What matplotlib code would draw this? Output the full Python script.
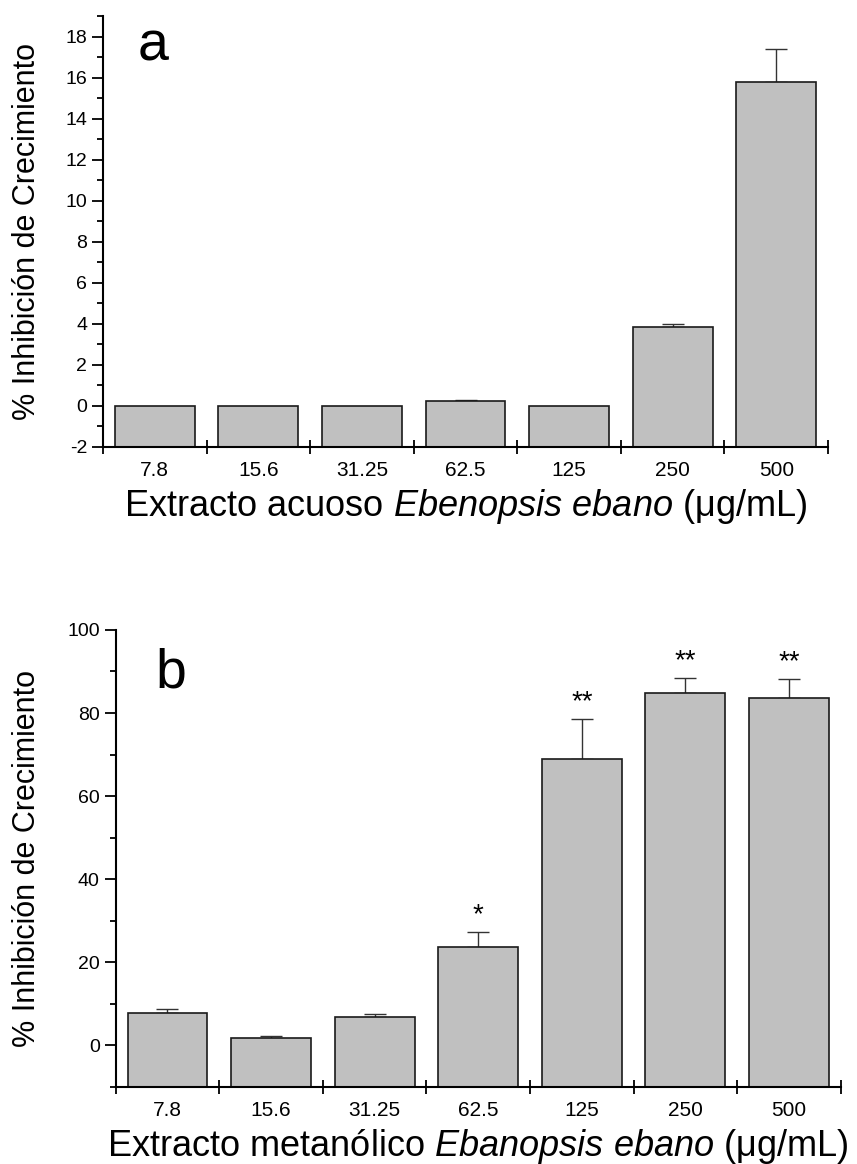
import numpy as np
import matplotlib
matplotlib.use("Agg")
import matplotlib.pyplot as plt
from matplotlib.ticker import MultipleLocator

plt.rcParams['font.family'] = ['Liberation Sans', 'DejaVu Sans']
plt.rcParams['mathtext.fontset'] = 'custom'
plt.rcParams['mathtext.rm'] = 'Liberation Sans'
plt.rcParams['mathtext.it'] = 'Liberation Sans:italic'
plt.rcParams['axes.unicode_minus'] = False

concs = ['7.8', '15.6', '31.25', '62.5', '125', '250', '500']

# aqueous extract (panel a)
acuoso = [0.0, 0.0, 0.0, 0.25, 0.0, 3.84, 15.8]
acuoso_err = [0.0, 0.0, 0.0, 0.05, 0.0, 0.16, 1.6]

# methanolic extract (panel b)
metanol = [7.8, 1.7, 6.7, 23.7, 69.0, 84.9, 83.7]
metanol_err = [1.0, 0.4, 0.9, 3.5, 9.6, 3.5, 4.4]
metanol_sig = ['', '', '', '*', '**', '**', '**']

BAR = '#c0c0c0'
pos = np.arange(1, len(concs) + 1)


def panel(ax, vals, errs, ymin, ymax, major, minor, letter, letter_xy, xlabel, ylab_x, sig=None):
    vals = np.array(vals)
    errs = np.array(errs)
    # bars start at the bottom of the axis, not at zero
    ax.bar(pos, vals - ymin, bottom=ymin, width=0.77, color=BAR,
           edgecolor='#1a1a1a', linewidth=1.2, zorder=2)
    m = errs > 0
    ax.errorbar(pos[m], vals[m], yerr=[np.zeros(m.sum()), errs[m]], fmt='none',
                ecolor='#333333', elinewidth=1.0, capsize=8, capthick=1.0, zorder=1)
    if sig is not None:
        for x, v, e, s in zip(pos, vals, errs, sig):
            if s:
                ax.annotate(s, (x, v + e), xytext=(0, 7), textcoords='offset points',
                            ha='center', va='baseline', fontsize=20)

    ax.set_xlim(0.5, len(concs) + 0.5)
    ax.set_ylim(ymin, ymax)
    # major ticks between groups, labels on minor ticks at bar centres
    ax.set_xticks(np.arange(0.5, len(concs) + 1), labels=[''] * (len(concs) + 1))
    ax.set_xticks(pos, labels=concs, minor=True)
    ax.tick_params(axis='x', which='major', direction='inout', length=10, width=1.3)
    ax.tick_params(axis='x', which='minor', direction='in', length=3, width=0.6,
                   color='#888888', labelsize=15, pad=10)
    ax.yaxis.set_major_locator(MultipleLocator(major))
    ax.yaxis.set_minor_locator(MultipleLocator(minor))
    ax.tick_params(axis='y', which='major', direction='out', length=8, width=1.3, labelsize=14)
    ax.tick_params(axis='y', which='minor', direction='out', length=4, width=1.3)

    for side in ('top', 'right'):
        ax.spines[side].set_visible(False)
    for side in ('left', 'bottom'):
        ax.spines[side].set_linewidth(1.5)

    ax.text(letter_xy[0], letter_xy[1], letter, transform=ax.transAxes,
            fontsize=40, ha='center', va='center')
    ax.set_xlabel(xlabel, fontsize=26, labelpad=5)
    ax.set_ylabel('% Inhibición de Crecimiento', fontsize=22)
    ax.yaxis.set_label_coords(ylab_x, 0.5)


fig = plt.figure(figsize=(8.57, 11.64), dpi=100)
ax1 = fig.add_axes([0.1202, 0.616, 0.846, 0.3702])
ax2 = fig.add_axes([0.135, 0.0664, 0.846, 0.3924])

panel(ax1, acuoso, acuoso_err, -2, 19, 2, 1, 'a', (0.069, 0.93),
      r'Extracto acuoso $Ebenopsis\ ebano$ (μg/mL)', -0.084)
panel(ax2, metanol, metanol_err, -10, 100, 20, 10, 'b', (0.076, 0.905),
      r'Extracto metanólico $Ebanopsis\ ebano$ (μg/mL)', -0.102, sig=metanol_sig)

fig.savefig('out.png', dpi=100)
